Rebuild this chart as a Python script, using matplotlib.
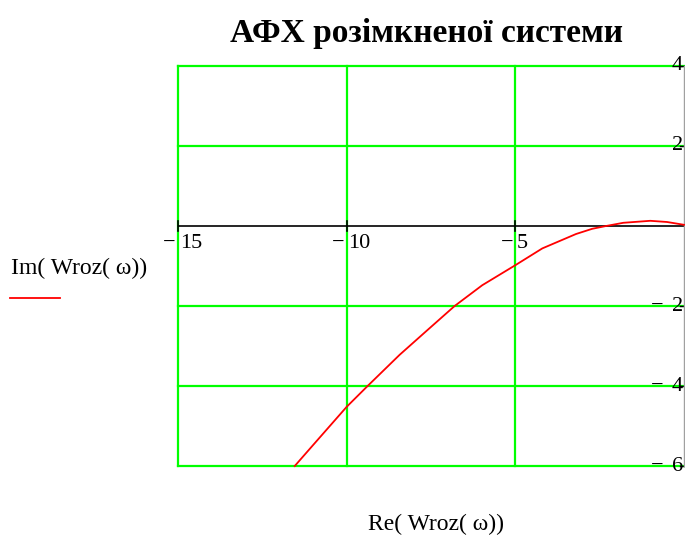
import matplotlib.pyplot as plt

# Nyquist curve of the open-loop system: Re and Im of Wroz(w)
re_w = [-11.54, -11.0, -10.0, -9.38, -8.43, -7.63, -6.8, -5.98, -5.0, -4.2,
        -3.2, -2.72, -2.31, -1.8, -1.0, -0.5, 0.0]
im_w = [-6.0, -5.48, -4.52, -4.0, -3.22, -2.62, -2.0, -1.48, -0.98, -0.56,
        -0.2, -0.07, 0.0, 0.08, 0.13, 0.1, 0.03]

x_ticks = [-15, -10, -5]
y_ticks = [4, 2, -2, -4, -6]
x_grid = [-15, -10, -5]
y_grid = [-6, -4, -2, 2, 4]

title = "АФХ розімкненої системи"
x_label = "Re( Wroz( ω))"
y_label = "Im( Wroz( ω))"

serif = ["Liberation Serif", "DejaVu Serif"]
green = "#00ff00"
tick_size = 16

fig = plt.figure(figsize=(6.85, 5.4), dpi=100)
ax = fig.add_axes([0.2599, 0.137, 0.7386, 0.7408])
ax.set_xlim(-15, 0)
ax.set_ylim(-6, 4)

for x in x_grid:
    ax.axvline(x, color=green, lw=1.6, zorder=1, clip_on=False)
for y in y_grid:
    ax.axhline(y, color=green, lw=1.6, zorder=1, clip_on=False)

# horizontal axis through zero with tick marks
ax.axhline(0, color="black", lw=1.2, zorder=2)
for x in x_ticks:
    ax.plot([x, x], [-0.12, 0.12], color="black", lw=1.2, zorder=2, clip_on=False)

for spine in ["top", "left", "bottom"]:
    ax.spines[spine].set_visible(False)
ax.spines["right"].set_color("#a0a0a0")
ax.spines["right"].set_linewidth(1.0)
ax.set_xticks([])
ax.set_yticks([])

ax.plot(re_w, im_w, color="red", lw=1.3, zorder=3, clip_on=False)

# tick labels drawn inside the plot, Mathcad-style
for x in x_ticks:
    ax.text(x - 0.07, -0.2, "−", ha="right", va="top", fontsize=tick_size, family=serif)
    ax.text(x + 0.05, -0.2, str(abs(x)), ha="left", va="top", fontsize=tick_size,
            family=serif)
for y in y_ticks:
    ax.plot([-0.12, 0], [y, y], color="black", lw=1.0, zorder=2, clip_on=False)
    ax.text(-0.03, y, str(abs(y)), ha="right", va="center", fontsize=tick_size,
            family=serif)
    if y < 0:
        ax.text(-0.62, y, "−", ha="right", va="center", fontsize=tick_size, family=serif)

fig.text(0.622, 0.938, title, ha="center", va="center", fontsize=24,
         fontweight="bold", family=serif)
fig.text(0.636, 0.028, x_label, ha="center", va="center", fontsize=17, family=serif)
fig.text(0.016, 0.503, y_label, ha="left", va="center", fontsize=17, family=serif)
fig.add_artist(plt.Line2D([0.015, 0.088], [0.448, 0.448], color="red", lw=1.3,
                          transform=fig.transFigure))

fig.savefig("out.png", dpi=100, facecolor="white")
